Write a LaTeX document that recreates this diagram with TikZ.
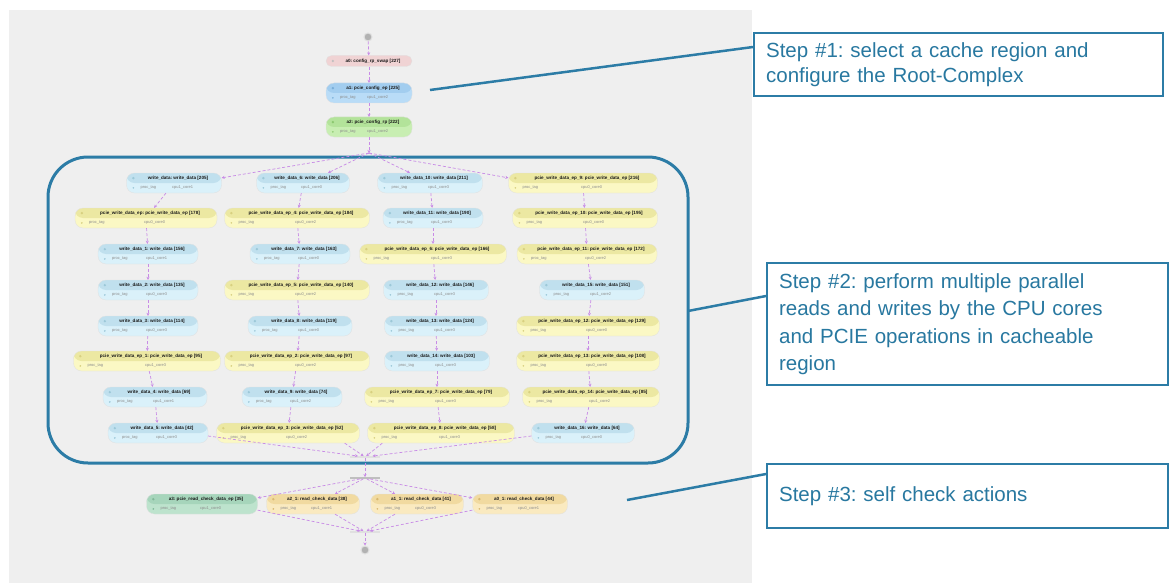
\documentclass[tikz,border=0pt]{standalone}
\usepackage{fontspec}
\setmainfont{Liberation Sans}
\frenchspacing
\usetikzlibrary{arrows.meta,calc}
\definecolor{panel}{HTML}{EFEFEF}
\definecolor{wdH}{HTML}{C0E0EE}\definecolor{wdB}{HTML}{DAF1FA}\definecolor{wdD}{HTML}{9CC8D8}
\definecolor{epH}{HTML}{ECE8A2}\definecolor{epB}{HTML}{FBF8C4}\definecolor{epD}{HTML}{D8D080}
\definecolor{rcH}{HTML}{F1DAA0}\definecolor{rcB}{HTML}{FAEAC0}\definecolor{rcD}{HTML}{D8B870}
\definecolor{rgH}{HTML}{A6D5BB}\definecolor{rgB}{HTML}{BDE3CD}\definecolor{rgD}{HTML}{80B898}
\definecolor{cbH}{HTML}{A2CDEF}\definecolor{cbB}{HTML}{B9DCF7}\definecolor{cbD}{HTML}{7AAED8}
\definecolor{cgH}{HTML}{B3E39A}\definecolor{cgB}{HTML}{C8EEB2}\definecolor{cgD}{HTML}{8CC870}
\definecolor{pinkB}{HTML}{F0D3D4}
\definecolor{flowc}{HTML}{C88BE6}
\definecolor{stepc}{HTML}{2C7CA6}
\definecolor{steptc}{HTML}{2878A0}
\newcommand{\opn}[7]{%
  \node[opbox, minimum width=#4, fill=#5B, path picture={\fill[#5H] (path picture bounding box.north west) rectangle (path picture bounding box.east);}] (#1) at (#2,#3) {};
  \fill[#5D] ([xshift=7pt,yshift=-5.3pt]#1.north west) circle[radius=1.3pt];
  \node[ttl] at ([xshift=4pt,yshift=5pt]#1.center) {#6};
  \fill[#5D] ([xshift=7pt,yshift=5.2pt]#1.south west) circle[radius=0.9pt];
  \node[sub, anchor=west] at ([xshift=14pt,yshift=5.2pt]#1.south west) {proc\_tag};
  \node[sub, anchor=west] at ([xshift=-2pt,yshift=5.2pt]#1.south) {#7};
}
\begin{document}
\begin{tikzpicture}[x=1pt,y=-1pt,
  opbox/.style={rectangle, rounded corners=8pt, minimum height=20pt, inner sep=0pt, draw=black!12, line width=0.3pt},
  ttl/.style={inner sep=0pt, font=\fontsize{4.6}{5}\selectfont\bfseries, text=black!90},
  sub/.style={inner sep=0pt, font=\fontsize{4}{5}\selectfont, text=black!45},
  flow/.style={draw=flowc, dash pattern=on 3pt off 2pt, line width=0.7pt, -{Stealth[length=3pt,width=3pt]}},
  bar/.style={rectangle, inner sep=0pt, minimum width=30pt, minimum height=1.5pt, fill=black!25},
  endc/.style={circle, inner sep=0pt, minimum size=8pt, fill=black!30, draw=black!12, line width=1pt},
  stepbox/.style={draw=stepc, line width=2.2pt, fill=white, inner xsep=12pt, align=left, text=steptc},
  stepline/.style={draw=stepc, line width=2.5pt}]
\useasboundingbox (0,0) rectangle (1169,583);
\fill[white] (0,0) rectangle (1169,583);
\fill[panel] (9,10) rectangle (752,583);
\draw[stepc, line width=3pt, rounded corners=40pt] (48,157) rectangle (688,463);

% top chain
\node[endc] (st) at (368,37) {};
\node[opbox, minimum width=86, minimum height=11pt, fill=pinkB, rounded corners=5.5pt] (a0) at (369,61) {};
\fill[black!25] ([xshift=7pt]a0.west) circle[radius=1.3pt];
\node[ttl] at ([xshift=4pt]a0.center) {a0: config\_rp\_swap [227]};
\opn{a1}{369}{93}{86}{cb}{a1: pcie\_config\_ep [225]}{cpu1\_core2}
\opn{a2}{369}{127}{86}{cg}{a2: pcie\_config\_rp [222]}{cpu1\_core2}

% column 1
\opn{wdA}{174}{183}{95}{wd}{write\_data: write\_data [205]}{cpu1\_core1}
\opn{epA}{146}{218}{142}{ep}{pcie\_write\_data\_ep: pcie\_write\_data\_ep [178]}{cpu0\_core0}
\opn{wd1}{148}{254}{100}{wd}{write\_data\_1: write\_data [156]}{cpu1\_core1}
\opn{wd2}{148}{290}{100}{wd}{write\_data\_2: write\_data [135]}{cpu0\_core3}
\opn{wd3}{148}{326}{100}{wd}{write\_data\_3: write\_data [114]}{cpu0\_core3}
\opn{ep1}{147}{361}{147}{ep}{pcie\_write\_data\_ep\_1: pcie\_write\_data\_ep [95]}{cpu1\_core3}
\opn{wd4}{155}{397}{104}{wd}{write\_data\_4: write\_data [69]}{cpu1\_core1}
\opn{wd5}{158}{433}{100}{wd}{write\_data\_5: write\_data [42]}{cpu1\_core3}
% column 2
\opn{wd6}{303}{183}{93}{wd}{write\_data\_6: write\_data [206]}{cpu1\_core0}
\opn{ep4}{297}{218}{145}{ep}{pcie\_write\_data\_ep\_4: pcie\_write\_data\_ep [184]}{cpu0\_core2}
\opn{wd7}{300}{254}{100}{wd}{write\_data\_7: write\_data [163]}{cpu1\_core0}
\opn{ep5}{297}{290}{145}{ep}{pcie\_write\_data\_ep\_5: pcie\_write\_data\_ep [140]}{cpu0\_core2}
\opn{wd8}{300}{326}{104}{wd}{write\_data\_8: write\_data [119]}{cpu1\_core0}
\opn{ep2}{297}{361}{145}{ep}{pcie\_write\_data\_ep\_2: pcie\_write\_data\_ep [97]}{cpu0\_core2}
\opn{wd9}{292}{397}{100}{wd}{write\_data\_9: write\_data [74]}{cpu1\_core2}
\opn{ep3}{288}{433}{143}{ep}{pcie\_write\_data\_ep\_3: pcie\_write\_data\_ep [52]}{cpu0\_core2}
% column 3
\opn{wd10}{430}{183}{105}{wd}{write\_data\_10: write\_data [211]}{cpu1\_core3}
\opn{wd11}{433}{218}{100}{wd}{write\_data\_11: write\_data [190]}{cpu1\_core3}
\opn{ep6}{433}{254}{147}{ep}{pcie\_write\_data\_ep\_6: pcie\_write\_data\_ep [166]}{cpu1\_core3}
\opn{wd12}{436}{290}{105}{wd}{write\_data\_12: write\_data [146]}{cpu1\_core3}
\opn{wd13}{436}{326}{103}{wd}{write\_data\_13: write\_data [124]}{cpu1\_core3}
\opn{wd14}{437}{361}{105}{wd}{write\_data\_14: write\_data [103]}{cpu1\_core3}
\opn{ep7}{437}{397}{145}{ep}{pcie\_write\_data\_ep\_7: pcie\_write\_data\_ep [79]}{cpu1\_core3}
\opn{ep8}{441}{433}{147}{ep}{pcie\_write\_data\_ep\_8: pcie\_write\_data\_ep [58]}{cpu1\_core3}
% column 4
\opn{ep9}{583}{183}{149}{ep}{pcie\_write\_data\_ep\_9: pcie\_write\_data\_ep [216]}{cpu0\_core0}
\opn{ep10}{585}{218}{145}{ep}{pcie\_write\_data\_ep\_10: pcie\_write\_data\_ep [195]}{cpu0\_core0}
\opn{ep11}{587}{254}{140}{ep}{pcie\_write\_data\_ep\_11: pcie\_write\_data\_ep [172]}{cpu0\_core2}
\opn{wd15}{592}{290}{105}{wd}{write\_data\_15: write\_data [151]}{cpu1\_core2}
\opn{ep12}{588}{326}{143}{ep}{pcie\_write\_data\_ep\_12: pcie\_write\_data\_ep [129]}{cpu0\_core0}
\opn{ep13}{588}{361}{143}{ep}{pcie\_write\_data\_ep\_13: pcie\_write\_data\_ep [108]}{cpu0\_core0}
\opn{ep14}{591}{397}{137}{ep}{pcie\_write\_data\_ep\_14: pcie\_write\_data\_ep [85]}{cpu1\_core2}
\opn{wd16}{583}{433}{103}{wd}{write\_data\_16: write\_data [64]}{cpu0\_core0}
% bottom row
\opn{a3}{202}{504}{111}{rg}{a3: pcie\_read\_check\_data\_ep [35]}{cpu1\_core0}
\opn{a21}{313}{504}{93}{rc}{a2\_1: read\_check\_data [38]}{cpu1\_core1}
\opn{a11}{417}{504}{93}{rc}{a1\_1: read\_check\_data [41]}{cpu0\_core3}
\opn{a01}{520}{504}{95}{rc}{a0\_1: read\_check\_data [44]}{cpu0\_core1}

\node[bar, fill=black!12] (j1) at (365,457) {};
\node[bar] (k1) at (365,478) {};
\node[bar, fill=black!12] (j2) at (365,532) {};
\node[endc] (en) at (365,550) {};
\coordinate (f0) at (369,153);

% connectors
\draw[flow] (st) -- (a0);
\draw[flow] (a0) -- (a1);
\draw[flow] (a1) -- (a2);
\draw[flow] (a2) -- (f0);
\draw[flow] (f0) -- ([yshift=-5pt]wdA.north east);
\draw[flow] (f0) -- ([xshift=25pt]wd6.north);
\draw[flow] (f0) -- ([xshift=-20pt]wd10.north);
\draw[flow] (f0) -- ([yshift=-5pt]ep9.north west);
\foreach \a/\b in {wdA/epA,epA/wd1,wd1/wd2,wd2/wd3,wd3/ep1,ep1/wd4,wd4/wd5,
  wd6/ep4,ep4/wd7,wd7/ep5,ep5/wd8,wd8/ep2,ep2/wd9,wd9/ep3,
  wd10/wd11,wd11/ep6,ep6/wd12,wd12/wd13,wd13/wd14,wd14/ep7,ep7/ep8,
  ep9/ep10,ep10/ep11,ep11/wd15,wd15/ep12,ep12/ep13,ep13/ep14,ep14/wd16}
  {\draw[flow] (\a) -- (\b);}
\draw[flow] ([yshift=-3pt]wd5.east) -- (j1);
\draw[flow] ([xshift=-15pt]ep3.south east) -- (j1);
\draw[flow] ([xshift=15pt]ep8.south west) -- (j1);
\draw[flow] ([yshift=-3pt]wd16.west) -- (j1);
\draw[flow] (j1) -- (k1);
\draw[flow] (k1) -- ([yshift=-4pt]a3.north east);
\draw[flow] (k1) -- ([xshift=22pt]a21.north);
\draw[flow] (k1) -- ([xshift=-22pt]a11.north);
\draw[flow] (k1) -- ([yshift=-4pt]a01.north west);
\draw[flow] ([yshift=4pt]a3.south east) -- (j2);
\draw[flow] ([xshift=22pt]a21.south) -- (j2);
\draw[flow] ([xshift=-22pt]a11.south) -- (j2);
\draw[flow] ([yshift=4pt]a01.south west) -- (j2);
\draw[flow] (j2) -- (en);

% step callouts
\node[stepbox, anchor=north west, text width=385pt, minimum height=63pt,
  font=\fontsize{20.5}{25}\selectfont] (s1) at (753,32)
  {Step \#1: select a cache region and\\configure the Root-Complex};
\node[stepbox, anchor=north west, text width=377pt, minimum height=122pt,
  font=\fontsize{20.5}{27.5}\selectfont] (s2) at (766,262)
  {Step \#2: perform multiple parallel\\reads and writes by the CPU cores\\and PCIE operations in cacheable\\region};
\node[stepbox, anchor=north west, text width=377pt, minimum height=64pt,
  font=\fontsize{20.5}{25}\selectfont] (s3) at (766,463)
  {Step \#3: self check actions};
\coordinate (c1) at (430,90);
\coordinate (c2) at (688,311);
\coordinate (c3) at (627,500);
\draw[stepline] (c1) -- ([yshift=-15pt]s1.north west);
\draw[stepline] (c2) -- ([yshift=-34pt]s2.north west);
\draw[stepline] (c3) -- ([yshift=-11pt]s3.north west);
\end{tikzpicture}
\end{document}
